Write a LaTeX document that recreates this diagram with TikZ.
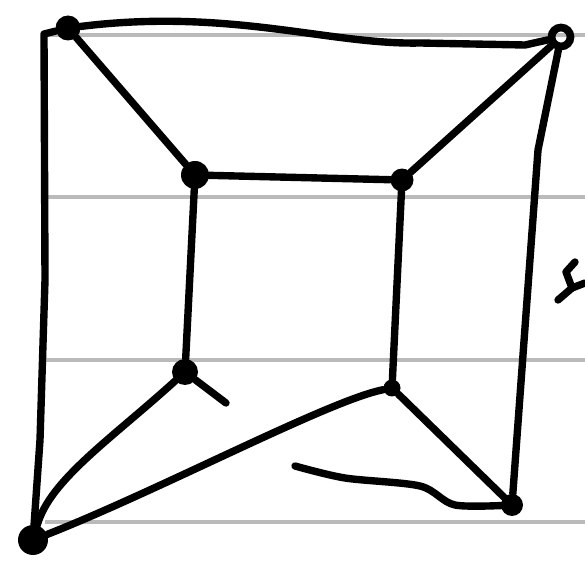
\documentclass[tikz,border=0pt]{standalone}
\usepackage{tikz}
\usetikzlibrary{calc}

\begin{document}
\begin{tikzpicture}[
  x=0.02cm, y=-0.02cm,
  vtx/.style={circle, fill=black, inner sep=0pt, minimum size=0.5cm},
  ring/.style={circle, draw, line width=4.4pt, inner sep=0pt, minimum size=0.38cm},
  edge/.style={line width=4.2pt, line cap=round, line join=round},
  rule/.style={line width=2.8pt, black!27}
]
\useasboundingbox (0,0) rectangle (585,574);
% ruled paper
\foreach \y in {35,197,360,522} {
  \draw[rule] (45,\y) -- (585,\y);
}
% outer corners
\node[vtx] (A) at (68,28) {};
\node[ring] (B) at (561,37) {};
\node[vtx, minimum size=0.6cm] (G) at (33,540) {};
\node[vtx, minimum size=0.44cm] (H) at (512,505) {};
% inner corners
\node[vtx, minimum size=0.56cm] (C) at (195,175) {};
\node[vtx, minimum size=0.46cm] (D) at (402,180) {};
\node[vtx, minimum size=0.52cm] (E) at (185,372) {};
\node[vtx, minimum size=0.34cm] (F) at (392,388) {};
% edges
\draw[edge] (A) .. controls (230,8) and (330,45) .. (420,43) -- (525,45) -- (B);
\draw[edge] (A) -- (44,34) -- (45,280) -- (40,440) -- (G);
\draw[edge] (B) -- (538,150) -- (H);
\draw[edge] (A) -- (C);
\draw[edge] (B) -- (D);
\draw[edge] (C) -- (D);
\draw[edge] (C) -- (E);
\draw[edge] (D) -- (F);
\draw[edge] (E) .. controls (110,440) and (50,480) .. (G);
\draw[edge] (G) .. controls (160,490) and (330,400) .. (F);
\draw[edge] (F) -- (H);
% stray strokes
\draw[edge] plot[smooth, tension=0.5] coordinates {(295,466) (345,478) (420,486) (455,505) (H)};
\draw[edge] (E) -- (226,403);
\draw[edge] (575,262) -- (566,272) -- (572,288) -- (558,300);
\draw[edge] (572,288) -- (585,283);
\end{tikzpicture}
\end{document}
